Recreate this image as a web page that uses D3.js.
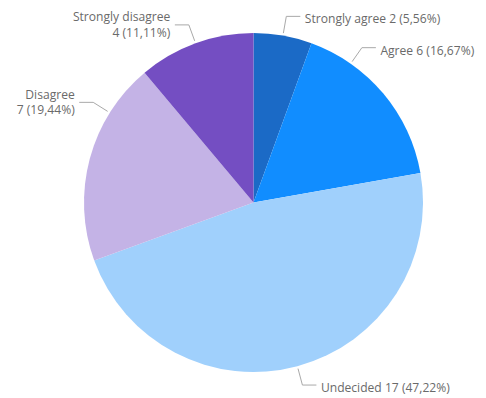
<!DOCTYPE html>
<html>
<head>
<meta charset="utf-8">
<script src="https://cdn.jsdelivr.net/npm/d3@7"></script>
<style>
  html, body { margin: 0; padding: 0; background: #fff; }
  svg { display: block; }
</style>
</head>
<body>
<svg id="chart" width="486" height="398"></svg>
<script>
// ---- data ----
const categories = ["Strongly agree", "Agree", "Undecided", "Disagree", "Strongly disagree"];
const counts = [2, 6, 17, 7, 4];
const percentLabels = ["5,56%", "16,67%", "47,22%", "19,44%", "11,11%"];
const colors = ["#1B6AC6", "#118DFF", "#A0D0FC", "#C4B3E6", "#744EC2"];

// ---- layout (positions / styles only) ----
const W = 486, H = 398;
const cx = 253.5, cy = 202.5, R = 169.5;
// angle (degrees, clockwise from 12 o'clock) where each leader line leaves the pie
const labelAngles = [null, 35, null, 302, null]; // null = slice middle
const twoLine = [false, false, false, true, true];
const fontFamily = "'Segoe UI', 'Open Sans', 'Noto Sans', sans-serif";
const fontSize = 12.1;

const svg = d3.select("#chart");
const g = svg.append("g").attr("transform", `translate(${cx},${cy})`);

const pie = d3.pie().value(d => d.v).sort(null);
const arcs = pie(categories.map((c, i) => ({ c, v: counts[i], i })));
const arc = d3.arc().innerRadius(0).outerRadius(R);

g.selectAll("path.slice")
  .data(arcs)
  .join("path")
  .attr("class", "slice")
  .attr("d", arc)
  .attr("fill", d => colors[d.data.i]);

const rad = deg => deg * Math.PI / 180;
const polar = (a, r) => [r * Math.sin(a), -r * Math.cos(a)];

arcs.forEach(d => {
  const i = d.data.i;
  const a = labelAngles[i] != null ? rad(labelAngles[i]) : (d.startAngle + d.endAngle) / 2;
  const p0 = polar(a, R + 2.5);
  const p1 = polar(a, R + 19.5);
  const right = Math.sin(a) >= 0;
  const dir = right ? 1 : -1;
  const p2 = [p1[0] + dir * 14, p1[1]];
  g.append("polyline")
    .attr("points", [p0, p1, p2].map(p => p.join(",")).join(" "))
    .attr("fill", "none")
    .attr("stroke", "#a9a9a9")
    .attr("stroke-width", 1);

  const tx = p2[0] + dir * 4.5;
  const t = g.append("text")
    .attr("x", tx)
    .attr("text-anchor", right ? "start" : "end")
    .attr("font-family", fontFamily)
    .attr("font-size", fontSize)
    .attr("fill", "#6a6a6a");
  if (twoLine[i]) {
    t.append("tspan").attr("x", tx).attr("y", p1[1] - 3.5).text(categories[i]);
    t.append("tspan").attr("x", tx).attr("y", p1[1] + 12).text(`${counts[i]} (${percentLabels[i]})`);
  } else {
    t.attr("y", p1[1] + 7).text(`${categories[i]} ${counts[i]} (${percentLabels[i]})`);
  }
});
</script>
</body>
</html>
